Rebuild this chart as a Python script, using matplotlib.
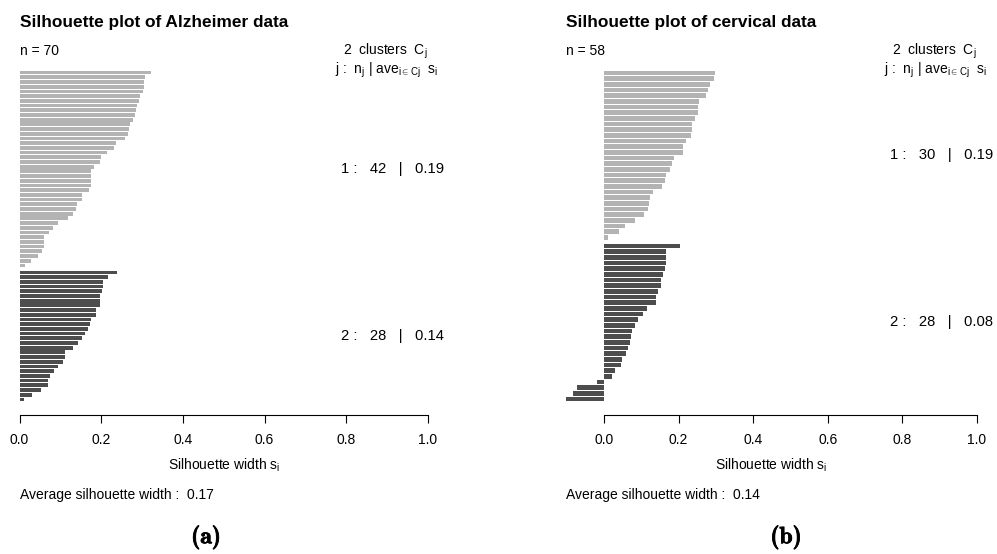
import numpy as np
import matplotlib
matplotlib.use('Agg')
import matplotlib.pyplot as plt
import matplotlib.patheffects as pe

plt.rcParams['font.family'] = ['Liberation Sans', 'DejaVu Sans']
plt.rcParams['mathtext.fontset'] = 'custom'
plt.rcParams['mathtext.rm'] = 'Liberation Sans'
plt.rcParams['mathtext.it'] = 'Liberation Sans'
plt.rcParams['mathtext.bf'] = 'Liberation Sans:bold'

# silhouette widths, sorted within each cluster
alz_c1 = [0.321, 0.308, 0.305, 0.304, 0.303, 0.296, 0.293, 0.288, 0.286, 0.283,
          0.279, 0.271, 0.269, 0.266, 0.259, 0.237, 0.231, 0.215, 0.200, 0.198,
          0.182, 0.176, 0.175, 0.175, 0.175, 0.170, 0.154, 0.154, 0.140, 0.138,
          0.131, 0.119, 0.094, 0.082, 0.073, 0.060, 0.060, 0.059, 0.056, 0.046,
          0.027, 0.014]
alz_c2 = [0.238, 0.217, 0.205, 0.205, 0.202, 0.198, 0.198, 0.198, 0.187, 0.187,
          0.174, 0.172, 0.167, 0.161, 0.153, 0.143, 0.131, 0.111, 0.111, 0.106,
          0.095, 0.084, 0.074, 0.070, 0.070, 0.053, 0.031, 0.011]
cer_c1 = [0.298, 0.296, 0.283, 0.278, 0.273, 0.255, 0.253, 0.253, 0.244, 0.237,
          0.236, 0.233, 0.220, 0.211, 0.211, 0.188, 0.183, 0.177, 0.167, 0.164,
          0.155, 0.132, 0.124, 0.121, 0.119, 0.107, 0.083, 0.056, 0.040, 0.010]
cer_c2 = [0.204, 0.167, 0.167, 0.167, 0.164, 0.158, 0.153, 0.152, 0.146, 0.140,
          0.138, 0.115, 0.104, 0.091, 0.082, 0.076, 0.072, 0.070, 0.065, 0.059,
          0.048, 0.045, 0.029, 0.022, -0.018, -0.072, -0.083, -0.102]

titles = ['Silhouette plot of Alzheimer data', 'Silhouette plot of cervical data']
captions = ['(a)', '(b)']
xticks = [0.0, 0.2, 0.4, 0.6, 0.8, 1.0]
cols = ['#b3b3b3', '#4d4d4d']


def sil_panel(ax, clusters, title):
	s = np.concatenate(clusters)
	n = len(s)
	total = n + 0.5*(len(clusters)-1)
	# bar centres from the top, half a bar of space between clusters
	ypos = []
	off = 0.0
	for k, c in enumerate(clusters):
		for i in range(len(c)):
			ypos.append(total - (off + i + 0.5))
		off += len(c) + 0.5
	ypos = np.array(ypos)
	start = 0
	for k, c in enumerate(clusters):
		yy = ypos[start:start+len(c)]
		ax.barh(yy, c, height=0.8, color=cols[k], linewidth=0)
		ax.text(0.788, yy.mean(), '%d :   %d   |   %.2f' % (k+1, len(c), np.mean(c)),
				transform=ax.get_yaxis_transform(), ha='left', va='center', fontsize=10.6)
		start += len(c)
	ax.set_xlim(min(0, s.min()), 1)
	ax.set_ylim(-0.04*total, 1.04*total)
	for sp in ['left', 'right', 'top']:
		ax.spines[sp].set_visible(False)
	ax.spines['bottom'].set_bounds(0, 1)
	ax.spines['bottom'].set_linewidth(0.8)
	ax.set_yticks([])
	ax.set_xticks(xticks)
	ax.set_xticklabels(['%.1f' % t for t in xticks])
	ax.tick_params(axis='x', direction='out', length=6, width=0.8, pad=7, labelsize=10)
	ax.text(0, 1.083, title, transform=ax.transAxes, fontsize=12.4, fontweight='bold',
			ha='left', va='baseline')
	ax.text(0, 1.0056, 'n = %d' % n, transform=ax.transAxes, fontsize=10, ha='left', va='baseline')
	ax.text(1, 1.0056, r'%d  clusters  $\mathrm{C_j}$' % len(clusters), transform=ax.transAxes,
			fontsize=10, ha='right', va='baseline')
	ax.text(1.025, 0.955, r'j :  $\mathrm{n_j}$ | $\mathrm{ave_{i\in Cj}}$  $\mathrm{s_i}$',
			transform=ax.transAxes, fontsize=10, ha='right', va='baseline')
	ax.text(0.5, -0.1536, r'Silhouette width $\mathrm{s_i}$', transform=ax.transAxes,
			fontsize=10, ha='center', va='baseline')
	ax.text(0, -0.234, 'Average silhouette width :  %.2f' % s.mean(), transform=ax.transAxes,
			fontsize=10, ha='left', va='baseline')


fig = plt.figure(figsize=(9.97, 5.54), dpi=100)
ax1 = fig.add_axes([19.5/997, 139/554, 408.5/997, 358/554])
ax2 = fig.add_axes([566/997, 139/554, 411/997, 358/554])
sil_panel(ax1, [alz_c1, alz_c2], titles[0])
sil_panel(ax2, [cer_c1, cer_c2], titles[1])

# subfigure captions in bold Computer Modern, stroked a little heavier
thick = [pe.withStroke(linewidth=0.6, foreground='black')]
fig.text(206/997, 17/554, captions[0], fontfamily='cmb10', fontsize=17,
		ha='center', va='center', path_effects=thick)
fig.text(786/997, 17/554, captions[1], fontfamily='cmb10', fontsize=17,
		ha='center', va='center', path_effects=thick)

fig.savefig('out.png', dpi=100)
